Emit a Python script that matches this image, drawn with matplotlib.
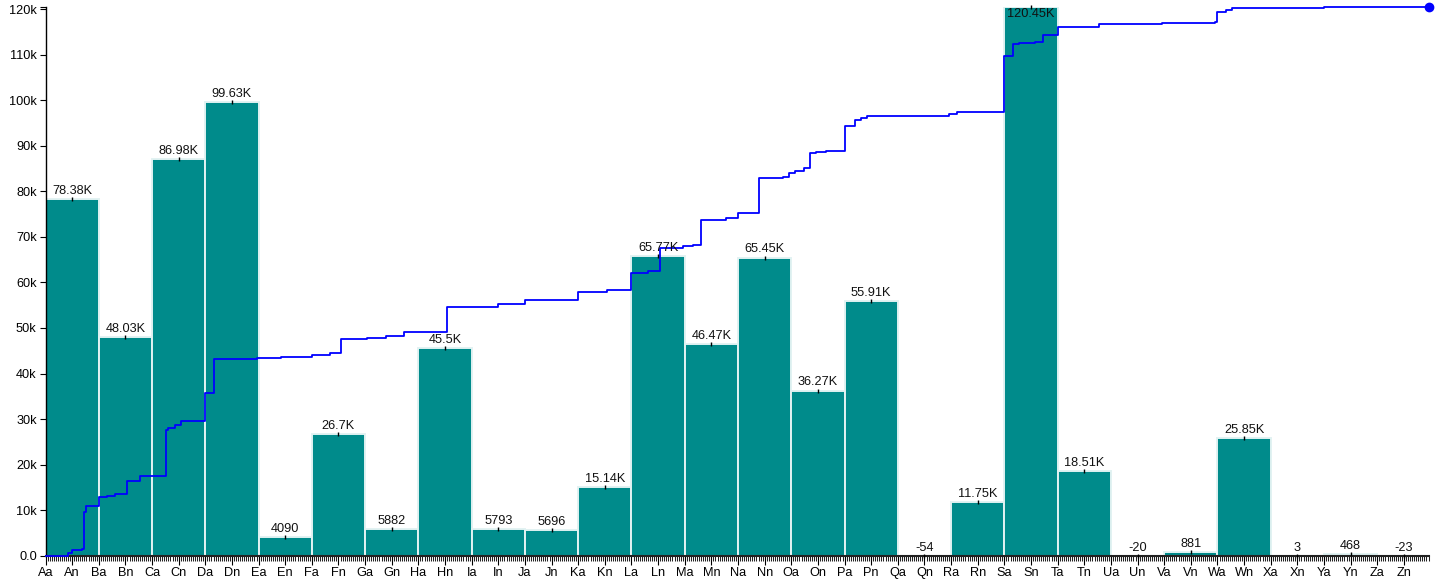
import string
import matplotlib
matplotlib.use("Agg")
import matplotlib.pyplot as plt
from matplotlib.ticker import FixedLocator, FuncFormatter

plt.rcParams['font.family'] = ['Liberation Sans', 'DejaVu Sans']

# ---------------- data ----------------
letters = list(string.ascii_uppercase)
lower = list(string.ascii_lowercase)
categories = [a + b for a in letters for b in lower]          # Aa .. Zz (676)

bar_groups = letters
bar_values = [78380, 48030, 86980, 99630, 4090, 26700, 5882, 45500, 5793,
              5696, 15140, 65770, 46470, 65450, 36270, 55910, -54, 11750,
              120450, 18510, -20, 881, 25850, 3, 468, -23]

# running line: category where the level changes, and the new level (thousands)
line_change_cat = ["Aa", "Al", "An", "As", "At", "Au", "Ba", "Be", "Bi", "Bo",
                   "Bu", "Ch", "Ci", "Cl", "Co", "Da", "De", "Dz", "El", "Fa",
                   "Fj", "Fo", "Gb", "Gk", "Gt", "Ho", "In", "Ja", "Ka", "Ko",
                   "La", "Li", "Lo", "Lz", "Me", "Mi", "Mu", "Na", "Nk", "Nw",
                   "Nz", "Oc", "Og", "Oj", "Om", "Or", "Pa", "Pf", "Pi", "Pl",
                   "Qz", "Rd", "Rh", "Rn", "Sa", "Se", "Sh", "Sp", "St", "Ta",
                   "Tu", "Uz", "Vz", "Wa", "We", "Wh", "Ya", "Zz"]
line_level_k = [0.0, 0.7, 1.3, 1.5, 9.7, 10.9, 13.0, 13.2, 13.6, 16.4,
                17.5, 27.7, 28.1, 28.6, 29.6, 35.7, 43.2, 43.4, 43.7, 44.1,
                44.4, 47.5, 47.7, 48.3, 49.1, 54.7, 55.2, 56.2, 57.8, 58.4,
                62.0, 62.6, 67.5, 67.9, 68.2, 73.7, 74.1, 75.2, 82.9, 83.2,
                84.1, 84.5, 85.2, 88.3, 88.6, 88.9, 94.4, 95.7, 96.0, 96.5,
                97.0, 97.3, 97.5, 97.5, 109.6, 112.3, 112.5, 112.8, 114.2, 116.0,
                116.7, 116.9, 117.1, 119.3, 119.9, 120.3, 120.45, 120.45]

# ---------------- figure ----------------
W, H = 1440, 586
fig = plt.figure(figsize=(W / 100, H / 100), dpi=100)
ax = fig.add_axes([45.5 / W, (H - 556) / H, (1428.5 - 45.5) / W, (556 - 7) / H])

pos = {c: i for i, c in enumerate(categories)}
ymin = min(0, min(bar_values))
ymax = max(bar_values)

# bars: each group spans its 26 categories
bar_left = [pos[g + "a"] for g in bar_groups]
ax.bar(bar_left, bar_values, width=26, align='edge', color='#008b8b',
       edgecolor='#e2f2f2', linewidth=1.4, zorder=2)

# labels
def fmt(v):
    if abs(v) >= 10000:
        s = f"{v / 1000:.2f}".rstrip('0').rstrip('.')
        return s + "K"
    return str(int(v))

for left, v in zip(bar_left, bar_values):
    cx = left + 13
    top = max(v, 0)
    ax.plot([cx], [top], marker='|', ms=2.2, mew=1, color='black', zorder=4,
            clip_on=False)
    if v >= 0.97 * ymax:
        ax.annotate(fmt(v), (cx, ymax), xytext=(0, -1), textcoords='offset points',
                    ha='center', va='top', fontsize=9.2, color='#111', zorder=5)
    else:
        ax.annotate(fmt(v), (cx, top), xytext=(0, 1.5), textcoords='offset points',
                    ha='center', va='bottom', fontsize=9.2, color='#111', zorder=5)

# running line
lx = [pos[c] for c in line_change_cat]
ly = [v * 1000 for v in line_level_k]
ax.plot(lx, ly, drawstyle='steps-post', color='#0000ff', lw=1.3, zorder=3,
        clip_on=False)
ax.plot([lx[-1]], [ly[-1]], 'o', color='#0000ff', ms=6, zorder=6, clip_on=False)

# axes
ax.set_xlim(0, len(categories) - 1)
ax.set_ylim(ymin, ymax)

major = list(range(0, len(categories), 13))
ax.xaxis.set_major_locator(FixedLocator(major))
ax.xaxis.set_major_formatter(FuncFormatter(lambda x, p: categories[int(round(x))]))
ax.xaxis.set_minor_locator(FixedLocator([i for i in range(len(categories)) if i % 13]))
ax.tick_params(axis='x', which='major', length=6.5, width=0.8, labelsize=9.2,
               pad=1.5, colors='black')
ax.tick_params(axis='x', which='minor', length=3.6, width=0.75, color='#222')

yt = list(range(0, 120001, 10000))
ax.yaxis.set_major_locator(FixedLocator(yt))
ax.yaxis.set_major_formatter(FuncFormatter(lambda y, p: "0.0" if y == 0 else f"{int(y / 1000)}k"))
ax.yaxis.set_minor_locator(FixedLocator([ymax]))
ax.tick_params(axis='y', which='major', length=4.3, width=0.8, labelsize=9.2, pad=2)
ax.tick_params(axis='y', which='minor', length=4.3, width=0.8)

for s in ['top', 'right']:
    ax.spines[s].set_visible(False)
ax.spines['left'].set_linewidth(1.0)
ax.spines['bottom'].set_linewidth(1.5)
ax.spines['bottom'].set_color('#222')

fig.savefig("out.png", dpi=100)
